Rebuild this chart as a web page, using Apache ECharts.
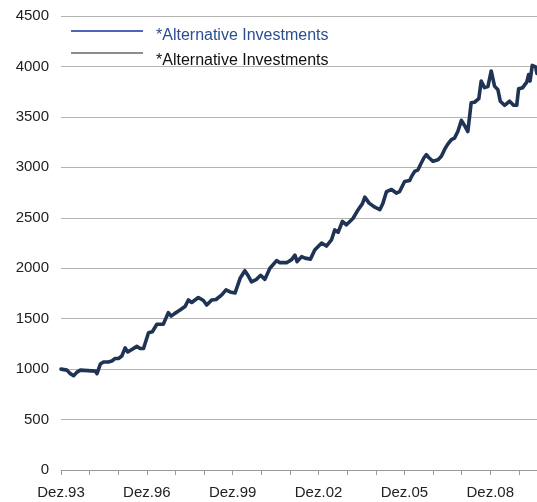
<!DOCTYPE html>
<html>
<head>
<meta charset="utf-8">
<script src="https://cdn.jsdelivr.net/npm/echarts@6/dist/echarts.min.js"></script>
<style>
html,body{margin:0;padding:0;background:#fff;}
#chart{width:537px;height:502px;}
</style>
</head>
<body>
<div id="chart"></div>
<script>
// Months since Dez.93 and index values
const months = [0, 2.5, 3.9, 5.3, 6.7, 8.1, 14.4, 15.1, 16.5, 17.8, 19.9, 21.3, 22.7, 24.1, 25.5, 26.9, 28.0, 29.7, 31.8, 33.2,
  34.6, 36.7, 38.3, 40.2, 42.9, 45.0, 46.2, 47.6, 49.9, 52.0, 53.4, 54.8, 57.6, 59.7, 61.1, 63.2, 65.0, 67.4, 69.2, 70.9,
  73.0, 75.1, 77.1, 78.5, 79.9, 82.0, 83.7, 85.5, 87.6, 90.4, 91.8, 94.6, 96.7, 98.1, 99.0, 100.9, 102.3, 104.6, 106.4, 109.3,
  111.3, 113.4, 114.8, 116.2, 118.0, 119.7, 122.5, 124.6, 126.4, 127.4, 129.2, 131.6, 133.7, 135.0, 136.5, 138.6, 140.6, 142.0, 144.1, 146.2,
  146.9, 148.3, 149.7, 150.7, 152.2, 153.2, 154.3, 156.0, 158.1, 159.5, 160.9, 162.2, 163.7, 165.0, 166.4, 167.9, 169.2, 170.6, 172.0, 173.4,
  175.2, 176.2, 177.6, 179.0, 180.4, 181.8, 183.2, 184.2, 186.0, 188.1, 189.8, 191.1, 191.9, 193.6, 195.3, 196.1, 196.7, 197.6, 199.0, 199.6];
const values = [1000, 990, 955, 935, 970, 990, 980, 955, 1050, 1070, 1070, 1080, 1105, 1105, 1130, 1210, 1170, 1195, 1225, 1205,
  1205, 1360, 1370, 1445, 1445, 1560, 1525, 1550, 1585, 1620, 1685, 1660, 1710, 1680, 1635, 1685, 1690, 1735, 1785, 1765,
  1755, 1900, 1975, 1925, 1865, 1890, 1930, 1890, 2000, 2075, 2055, 2055, 2085, 2130, 2065, 2115, 2100, 2090, 2180, 2250,
  2220, 2280, 2380, 2355, 2465, 2430, 2495, 2580, 2640, 2705, 2645, 2605, 2580, 2645, 2760, 2780, 2745, 2760, 2860, 2870,
  2905, 2960, 2975, 3025, 3095, 3125, 3095, 3060, 3075, 3110, 3180, 3230, 3275, 3290, 3355, 3465, 3415, 3355, 3640, 3645,
  3680, 3855, 3790, 3800, 3955, 3805, 3770, 3655, 3615, 3655, 3615, 3615, 3780, 3790, 3845, 3920, 3855, 4010, 3995, 3930];
const tickLabels = ['Dez.93', 'Dez.96', 'Dez.99', 'Dez.02', 'Dez.05', 'Dez.08'];
const seriesNames = ['*Alternative Investments', '*Alternative Investments '];

const FONT = "'Liberation Sans', Arial, Helvetica, sans-serif";
const chart = echarts.init(document.getElementById('chart'), null, {renderer: 'canvas'});
const data = months.map((m, i) => [m, values[i]]);

function legendFor(idx, top, lineColor, lineH, textColor, shift) {
  return {
    left: 71, top: top, padding: 0, orient: 'vertical', selectedMode: false,
    itemWidth: 72, itemHeight: lineH,
    formatter: n => '{t|' + n + '}',
    data: [{name: seriesNames[idx], icon: 'rect', itemStyle: {color: lineColor}}],
    textStyle: {
      color: textColor, fontSize: 16, fontFamily: FONT,
      rich: {t: {color: textColor, fontSize: 16, fontFamily: FONT, lineHeight: 18, padding: [shift * 2, 0, 0, 8]}}
    }
  };
}

chart.setOption({
  animation: false,
  backgroundColor: '#ffffff',
  textStyle: {fontFamily: FONT},
  grid: {left: 61, right: 0, top: 16, bottom: 32, containLabel: false},
  legend: [
    legendFor(0, 18.5, '#1a2fa0', 1.5, '#2c4f90', 4.5),
    legendFor(1, 37.5, '#1a1a1a', 1.2, '#111111', 7.5)
  ],
  xAxis: {
    type: 'value', min: 0, max: 199.6, interval: 12,
    axisLine: {show: true, lineStyle: {color: '#9a9a9a', width: 1}},
    axisTick: {show: true, length: 5, lineStyle: {color: '#9a9a9a'}},
    splitLine: {show: false},
    axisLabel: {
      color: '#222', fontSize: 15, margin: 15, fontFamily: FONT,
      showMaxLabel: false,
      formatter: v => (Math.abs(v % 36) < 1e-6 ? (tickLabels[v / 36] || '') : '')
    }
  },
  yAxis: {
    type: 'value', min: 0, max: 4500, interval: 500,
    axisLine: {show: false}, axisTick: {show: false},
    splitLine: {show: true, lineStyle: {color: '#b4b4b4', width: 1}},
    axisLabel: {color: '#222', fontSize: 15, margin: 12, fontFamily: FONT, formatter: v => String(v)}
  },
  series: [{
    name: seriesNames[0], type: 'line', data: data, showSymbol: false, symbol: 'none',
    color: '#1f3454',
    lineStyle: {color: '#1f3454', width: 3.6, join: 'round', cap: 'round'},
    z: 3
  }, {
    name: seriesNames[1], type: 'line', data: [], showSymbol: false, symbol: 'none',
    color: '#1a1a1a', lineStyle: {color: '#1a1a1a', width: 1}
  }]
});
</script>
</body>
</html>
